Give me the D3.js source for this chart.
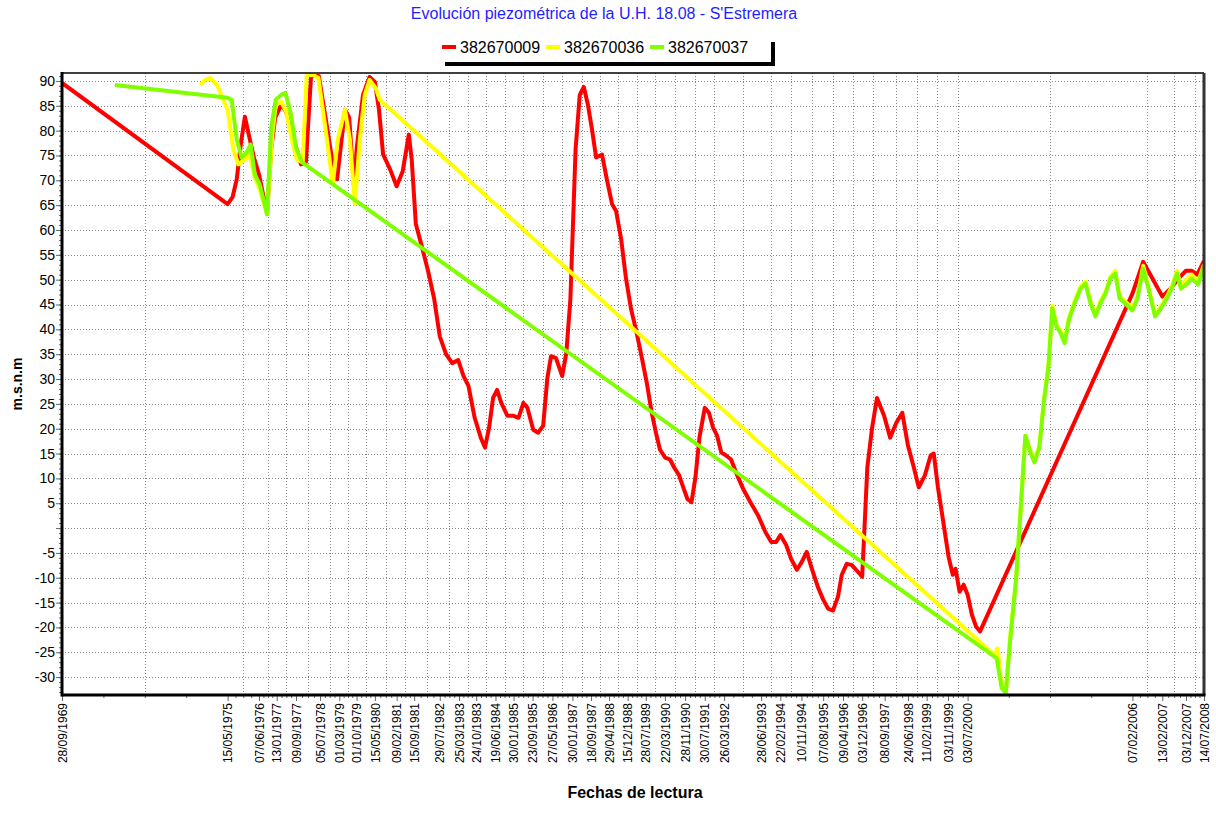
<!DOCTYPE html>
<html>
<head>
<meta charset="utf-8">
<script src="https://cdn.jsdelivr.net/npm/d3@7"></script>
<style>
body { margin: 0; background: #fff; }
svg { font-family: Arial, "Liberation Sans", sans-serif; }
</style>
</head>
<body>
<div id="chart"></div>
<script>
// legend names and colours
var seriesNames = ['382670009', '382670036', '382670037'];
var seriesColors = ['#ff0000', '#ffff00', '#80ff00'];

// dates printed under the x axis
var tickDates = ['28/09/1969', '15/05/1975', '07/06/1976', '13/01/1977', '09/09/1977', '05/07/1978',
  '01/03/1979', '01/10/1979', '15/05/1980', '09/02/1981', '15/09/1981', '29/07/1982', '25/03/1983',
  '24/10/1983', '19/06/1984', '30/01/1985', '23/09/1985', '27/05/1986', '30/01/1987', '18/09/1987',
  '29/04/1988', '15/12/1988', '28/07/1989', '22/03/1990', '28/11/1990', '30/07/1991', '26/03/1992',
  '28/06/1993', '22/02/1994', '10/11/1994', '07/08/1995', '09/04/1996', '03/12/1996', '08/09/1997',
  '24/06/1998', '11/02/1999', '03/11/1999', '03/07/2000', '07/02/2006', '13/02/2007', '03/12/2007',
  '14/07/2008'];

var yTicks = d3.range(-30, 91, 5);

// 382670009
var redDates = ['28/09/1969', '15/05/1975', '15/07/1975', '05/09/1975', '25/10/1975', '15/12/1975',
  '15/02/1976', '05/04/1976', '07/06/1976', '27/07/1976', '15/09/1976', '05/11/1976', '25/12/1976',
  '10/03/1977', '10/05/1977', '10/07/1977', '10/11/1977', '10/01/1978', '15/03/1978', '20/06/1978',
  '15/09/1978', '01/12/1978', '01/02/1979', '10/05/1979', '01/07/1979', '01/09/1979', '01/10/1979',
  '20/12/1979', '10/03/1980', '15/05/1980', '05/07/1980', '25/08/1980', '20/11/1980', '09/02/1981',
  '25/04/1981', '10/07/1981', '15/08/1981', '05/10/1981', '20/12/1981', '05/03/1982', '20/05/1982',
  '29/07/1982', '15/10/1982', '30/12/1982', '15/03/1983', '20/05/1983', '20/07/1983', '05/10/1983',
  '20/12/1983', '10/02/1984', '01/04/1984', '20/05/1984', '10/07/1984', '30/08/1984', '15/11/1984',
  '30/01/1985', '01/04/1985', '01/06/1985', '20/07/1985', '01/10/1985', '01/12/1985', '01/02/1986',
  '25/03/1986', '10/05/1986', '10/07/1986', '25/09/1986', '15/11/1986', '05/01/1987', '10/03/1987',
  '01/05/1987', '20/06/1987', '10/08/1987', '30/09/1987', '20/11/1987', '01/02/1988', '01/04/1988',
  '05/06/1988', '25/07/1988', '25/09/1988', '25/11/1988', '25/01/1989', '30/03/1989', '10/06/1989',
  '10/08/1989', '10/10/1989', '01/12/1989', '20/01/1990', '25/03/1990', '25/05/1990', '15/07/1990',
  '15/09/1990', '05/11/1990', '28/12/1990', '15/02/1991', '05/04/1991', '25/05/1991', '30/07/1991',
  '20/09/1991', '10/11/1991', '30/12/1991', '20/02/1992', '20/04/1992', '20/06/1992', '05/09/1992',
  '20/11/1992', '15/02/1993', '20/05/1993', '20/08/1993', '01/11/1993', '01/01/1994', '22/02/1994',
  '05/05/1994', '05/07/1994', '15/09/1994', '15/11/1994', '15/01/1995', '20/03/1995', '01/06/1995',
  '07/08/1995', '07/10/1995', '07/12/1995', '07/02/1996', '25/03/1996', '25/05/1996', '25/07/1996',
  '10/10/1996', '03/12/1996', '05/02/1997', '05/04/1997', '05/06/1997', '01/09/1997', '15/11/1997',
  '30/01/1998', '15/04/1998', '24/06/1998', '05/09/1998', '05/11/1998', '20/01/1999', '01/04/1999',
  '10/05/1999', '01/07/1999', '15/09/1999', '10/11/1999', '01/01/2000', '05/02/2000', '25/03/2000',
  '15/05/2000', '03/07/2000', '25/08/2000', '15/10/2000', '05/12/2000', '07/02/2006', '20/06/2006',
  '15/10/2006', '13/02/2007', '25/05/2007', '01/09/2007', '03/12/2007', '15/02/2008', '20/04/2008',
  '14/07/2008'];
var redValues = [89.6, 65.2, 66.6, 70.2, 77.2, 82.8,
  78.2, 74.6, 71.2, 67.2, 63.2, 76.2, 82.6,
  85.2, 83.8, 80.2, 73.2, 73.6, 91, 91,
  82.2, 74.2, 70.2, 84.2, 82.6, 68.2, 76.2,
  87.2, 90.8, 89.8, 84.2, 75.2, 72.2, 68.8,
  71.8, 79.2, 74.2, 61.2, 56.6, 51.8, 46.2,
  38.6, 35, 33.2, 33.8, 30.6, 28.6, 22.2,
  18.2, 16.2, 20.2, 26.2, 27.8, 25.2, 22.6,
  22.6, 22.2, 25.2, 24.2, 19.8, 19.2, 20.6,
  30.2, 34.6, 34.2, 30.6, 35.2, 46.2, 76.2,
  87.2, 88.8, 85.2, 80.2, 74.6, 75.2, 70.2,
  65.2, 63.8, 58.2, 50.2, 44.2, 39.8, 34.2,
  29.2, 23.2, 19.2, 15.8, 14.2, 13.8, 12.2,
  10.6, 8.2, 5.8, 5.2, 10.2, 18.2, 24.2,
  23.2, 20.2, 18.6, 15.2, 14.6, 13.8, 10.6,
  7.8, 5.2, 2.6, -0.8, -2.8, -2.8, -1.4,
  -3.4, -6.2, -8.4, -6.8, -4.8, -8.2, -11.8,
  -14.4, -16.2, -16.6, -13.8, -9.4, -7.2, -7.4,
  -8.8, -9.8, 12.2, 20.2, 26.2, 22.6, 18.2,
  21.2, 23.2, 16.6, 12.2, 8.2, 10.6, 14.6,
  15, 8.2, 0.2, -5.8, -9.4, -8.2, -12.8,
  -11.4, -13.4, -17.4, -19.8, -20.8, 47.2, 53.6,
  50.2, 46.6, 48.2, 50.2, 51.8, 51.8, 51,
  53.8];

// 382670036
var yellowDates = ['10/06/1974', '10/08/1974', '10/10/1974', '05/01/1975', '15/05/1975', '25/07/1975',
  '25/09/1975', '15/12/1975', '15/02/1976', '15/04/1976', '15/06/1976', '15/09/1976', '20/11/1976',
  '01/01/1977', '10/03/1977', '10/05/1977', '20/07/1977', '20/09/1977', '01/12/1977', '20/01/1978',
  '10/04/1978', '15/06/1978', '20/09/1978', '10/12/1978', '10/02/1979', '10/05/1979', '10/07/1979',
  '10/09/1979', '10/11/1979', '10/01/1980', '10/03/1980', '25/05/1980', '15/07/1980', '03/06/2001',
  '10/07/2001', '30/08/2001', '20/10/2001', '10/12/2001', '25/02/2002', '15/04/2002', '20/06/2002',
  '20/08/2002', '10/10/2002', '10/12/2002', '10/02/2003', '01/04/2003', '20/05/2003', '10/07/2003',
  '01/09/2003', '20/10/2003', '10/12/2003', '20/02/2004', '05/05/2004', '05/07/2004', '05/09/2004',
  '05/11/2004', '05/01/2005', '10/03/2005', '10/05/2005', '10/07/2005', '01/09/2005', '10/11/2005',
  '07/02/2006', '10/04/2006', '20/06/2006', '25/08/2006', '15/11/2006', '10/01/2007', '10/04/2007',
  '10/06/2007', '15/08/2007', '01/10/2007', '03/12/2007', '15/02/2008', '01/05/2008', '14/07/2008'];
var yellowValues = [89.2, 90.2, 90.6, 89.2, 84.2, 76.2,
  73.2, 74.2, 75.2, 70.6, 68.2, 63.2, 79.2,
  85.2, 85.8, 83.8, 78.2, 74.2, 73.6, 91.2,
  91.2, 90.6, 79.2, 69.2, 78.2, 84.2, 78.2,
  65.2, 78.2, 87.2, 90.2, 88.6, 86.2, -25.6,
  -24.2, -31.8, -33.2, -22.2, -10.2, 2, 18.6,
  15.6, 13.6, 16.6, 26.6, 32.6, 44.8, 41,
  39.6, 37.6, 42.2, 45.6, 48.6, 49.6, 45.6,
  43, 45.6, 47.6, 50.6, 51.8, 46.6, 45.6,
  44.2, 46.6, 52.8, 48.6, 43, 44.2, 46.6,
  48.6, 51.8, 48.6, 50, 51, 49.6, 53];

// 382670037
var greenDates = ['17/07/1971', '15/05/1975', '05/07/1975', '05/09/1975', '05/11/1975', '05/01/1976',
  '25/02/1976', '15/04/1976', '15/06/1976', '15/09/1976', '05/11/1976', '01/01/1977', '10/03/1977',
  '01/05/1977', '10/07/1977', '09/09/1977', '25/11/1977', '28/06/2001', '30/08/2001', '20/10/2001',
  '10/12/2001', '25/02/2002', '15/04/2002', '20/06/2002', '20/08/2002', '10/10/2002', '10/12/2002',
  '10/02/2003', '01/04/2003', '20/05/2003', '10/07/2003', '01/09/2003', '20/10/2003', '10/12/2003',
  '20/02/2004', '05/05/2004', '05/07/2004', '05/09/2004', '05/11/2004', '05/01/2005', '10/03/2005',
  '10/05/2005', '10/07/2005', '01/09/2005', '10/11/2005', '07/02/2006', '10/04/2006', '20/06/2006',
  '25/08/2006', '15/11/2006', '10/01/2007', '10/04/2007', '10/06/2007', '15/08/2007', '01/10/2007',
  '03/12/2007', '15/02/2008', '01/05/2008', '14/07/2008'];
var greenValues = [89.2, 86.6, 86.2, 78.2, 74.6, 75.6,
  77.2, 71.2, 69.2, 63.2, 80.6, 86.2, 87.2,
  87.6, 83.2, 76.6, 73.6, -26.2, -32.2, -33.2,
  -23.2, -10.2, 2, 18.6, 15.2, 13.2, 16.2,
  26.2, 32.2, 44.2, 40.6, 39.2, 37.2, 41.8,
  45.2, 48.2, 49.2, 45.2, 42.6, 45.2, 47.2,
  50.2, 51.2, 46.2, 45.2, 43.8, 46.2, 52.2,
  48.2, 42.6, 43.8, 46.2, 48.2, 51.2, 48.2,
  49, 50.2, 49, 52.6];

var parseDate = d3.timeParse('%d/%m/%Y');
var formatDate = d3.timeFormat('%d/%m/%Y');

var W = 1216, H = 832;
var plotLeft = 62, plotRight = 1204, plotTop = 73, plotBottom = 695;

var svg = d3.select('#chart').append('svg')
  .attr('width', W)
  .attr('height', H);

var x = d3.scaleTime()
  .domain([parseDate(tickDates[0]), parseDate(tickDates[tickDates.length - 1])])
  .range([plotLeft, plotRight]);

var y = d3.scaleLinear()
  .domain([-33.6, 91.6])
  .range([plotBottom, plotTop]);

// title
svg.append('text')
  .attr('x', 604)
  .attr('y', 19)
  .attr('text-anchor', 'middle')
  .attr('font-size', '16px')
  .attr('fill', '#1f1fff')
  .text("Evolución piezométrica de la U.H. 18.08 - S'Estremera");

// legend box with its shadow
svg.append('rect').attr('x', 445).attr('y', 42).attr('width', 330).attr('height', 24).attr('fill', '#000');
svg.append('rect').attr('x', 441).attr('y', 38).attr('width', 330).attr('height', 24).attr('fill', '#fff');

var legendX = [442, 546, 650];
var legend = svg.selectAll('.legend')
  .data(seriesNames)
  .enter()
  .append('g')
  .attr('transform', function(d, i) { return 'translate(' + legendX[i] + ',47)'; });
legend.append('line')
  .attr('x1', 0).attr('x2', 14)
  .attr('stroke', function(d, i) { return seriesColors[i]; })
  .attr('stroke-width', 4);
legend.append('text')
  .attr('x', 18)
  .attr('y', 5.5)
  .attr('font-size', '16px')
  .text(function(d) { return d; });

// grid: horizontal at each labelled value, vertical half way between dated ticks
var dates = tickDates.map(parseDate);
var mids = [], quarters = [];
for (var i = 0; i < dates.length - 1; i++) {
  var a = +dates[i], b = +dates[i + 1];
  mids.push(new Date(a + (b - a) / 2));
  quarters.push(new Date(a + (b - a) / 4), new Date(a + (b - a) * 3 / 4));
}

var grid = svg.append('g').attr('stroke', '#888').attr('stroke-width', 1).attr('stroke-dasharray', '1,2');
grid.selectAll('.hg')
  .data(yTicks)
  .enter()
  .append('line')
  .attr('x1', plotLeft).attr('x2', plotRight)
  .attr('y1', function(d) { return Math.round(y(d)) + 0.5; })
  .attr('y2', function(d) { return Math.round(y(d)) + 0.5; });
grid.selectAll('.vg')
  .data(mids)
  .enter()
  .append('line')
  .attr('y1', plotTop).attr('y2', plotBottom)
  .attr('x1', function(d) { return Math.round(x(d)) + 0.5; })
  .attr('x2', function(d) { return Math.round(x(d)) + 0.5; });

// series lines
svg.append('clipPath').attr('id', 'plot')
  .append('rect').attr('x', plotLeft).attr('y', plotTop).attr('width', plotRight - plotLeft).attr('height', plotBottom - plotTop);

var line = d3.line()
  .x(function(d) { return x(d[0]); })
  .y(function(d) { return y(d[1]); });

var series = [
  d3.zip(redDates.map(parseDate), redValues),
  d3.zip(yellowDates.map(parseDate), yellowValues),
  d3.zip(greenDates.map(parseDate), greenValues)
];

svg.append('g').attr('clip-path', 'url(#plot)')
  .selectAll('path')
  .data(series)
  .enter()
  .append('path')
  .attr('d', line)
  .attr('fill', 'none')
  .attr('stroke', function(d, i) { return seriesColors[i]; })
  .attr('stroke-width', 4)
  .attr('stroke-linejoin', 'round');

// x axis
var xAxis = svg.append('g')
  .attr('transform', 'translate(0,' + plotBottom + ')')
  .call(d3.axisBottom(x).tickValues(dates).tickFormat(formatDate).tickSize(6).tickSizeOuter(0));
xAxis.select('.domain').remove();
xAxis.selectAll('line').attr('stroke', '#666');
xAxis.selectAll('text')
  .attr('font-size', '12px')
  .attr('fill', '#000')
  .attr('transform', 'rotate(-90)')
  .attr('text-anchor', 'end')
  .attr('x', -8)
  .attr('y', 0)
  .attr('dy', '0.35em');

var xMinor = svg.append('g')
  .attr('transform', 'translate(0,' + plotBottom + ')')
  .call(d3.axisBottom(x).tickValues(quarters.concat(mids)).tickFormat('').tickSize(3).tickSizeOuter(0));
xMinor.select('.domain').remove();
xMinor.selectAll('line').attr('stroke', '#666');

// y axis
var yAxis = svg.append('g')
  .attr('transform', 'translate(' + plotLeft + ',0)')
  .call(d3.axisLeft(y).tickValues(yTicks).tickFormat(function(d) { return d === 0 ? '' : d; }).tickSize(6).tickSizeOuter(0));
yAxis.select('.domain').remove();
yAxis.selectAll('line').attr('stroke', '#666');
yAxis.selectAll('text').attr('font-size', '14px').attr('fill', '#000').attr('x', -7);

var yMinor = svg.append('g')
  .attr('transform', 'translate(' + plotLeft + ',0)')
  .call(d3.axisLeft(y).tickValues(d3.range(-33, 92, 1)).tickFormat('').tickSize(3).tickSizeOuter(0));
yMinor.select('.domain').remove();
yMinor.selectAll('line').attr('stroke', '#666');

// plot frame
svg.append('line').attr('x1', plotLeft).attr('x2', plotRight).attr('y1', plotTop).attr('y2', plotTop).attr('stroke', '#000').attr('stroke-width', 1.5);
svg.append('line').attr('x1', plotRight).attr('x2', plotRight).attr('y1', plotTop).attr('y2', plotBottom).attr('stroke', '#333').attr('stroke-width', 3);
svg.append('line').attr('x1', plotLeft).attr('x2', plotLeft).attr('y1', plotTop - 1).attr('y2', plotBottom + 1.5).attr('stroke', '#000').attr('stroke-width', 3);
svg.append('line').attr('x1', plotLeft).attr('x2', plotRight + 1.5).attr('y1', plotBottom).attr('y2', plotBottom).attr('stroke', '#000').attr('stroke-width', 3);

// axis titles
svg.append('text')
  .attr('x', 635)
  .attr('y', 798)
  .attr('text-anchor', 'middle')
  .attr('font-size', '16px')
  .attr('font-weight', 'bold')
  .text('Fechas de lectura');

svg.append('text')
  .attr('transform', 'translate(22,384) rotate(-90)')
  .attr('text-anchor', 'middle')
  .attr('font-size', '14px')
  .attr('font-weight', 'bold')
  .text('m.s.n.m');
</script>
</body>
</html>
